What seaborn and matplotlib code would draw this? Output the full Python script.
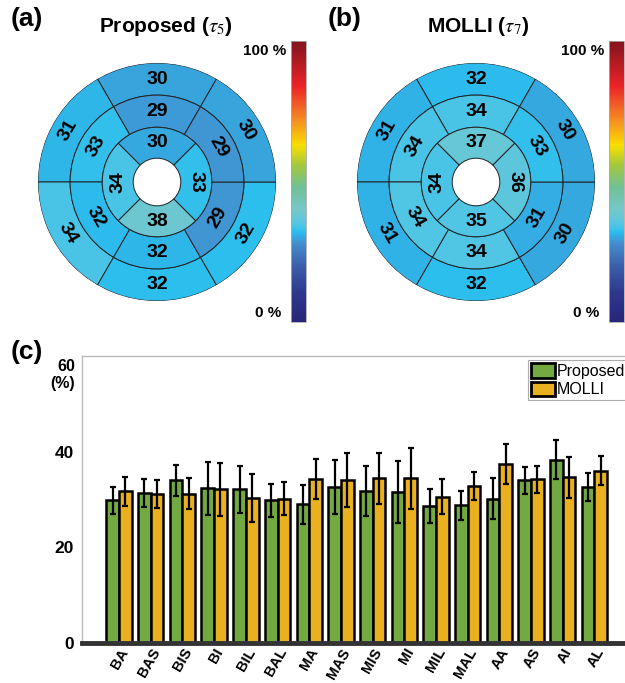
import numpy as np
import pandas as pd
import matplotlib
matplotlib.use("Agg")
import matplotlib.pyplot as plt
from matplotlib.colors import LinearSegmentedColormap, Normalize
from matplotlib.cm import ScalarMappable
import seaborn as sns

# ---------------------------
# Data
# ---------------------------
segments = ["BA", "BAS", "BIS", "BI", "BIL", "BAL",
            "MA", "MAS", "MIS", "MI", "MIL", "MAL",
            "AA", "AS", "AI", "AL"]
proposed_mean = [29.8, 31.4, 34.0, 32.3, 32.1, 29.8,
                 29.0, 32.6, 31.7, 31.6, 28.6, 28.8,
                 30.2, 34.0, 38.3, 32.6]
proposed_sd = [2.9, 2.9, 3.3, 5.6, 5.0, 3.4,
               4.1, 5.7, 5.2, 6.5, 3.6, 3.0,
               4.3, 2.8, 4.1, 3.0]
molli_mean = [31.7, 31.2, 31.2, 32.1, 30.3, 30.2,
              34.3, 34.1, 34.4, 34.4, 30.6, 32.8,
              37.4, 34.2, 34.6, 36.0]
molli_sd = [3.0, 2.9, 3.2, 5.5, 5.1, 3.4,
            4.1, 5.7, 5.3, 6.4, 3.6, 3.0,
            4.2, 2.9, 4.2, 3.0]
methods = ["Proposed", "MOLLI"]
bar_colors = ["#72A941", "#E9B020"]

# muted jet-like colormap as printed in the figure
cmap_stops = [
    (0.00, (40, 38, 120)), (0.10, (45, 55, 140)), (0.20, (60, 95, 170)),
    (0.28, (68, 142, 206)), (0.32, (42, 190, 238)), (0.35, (88, 198, 226)),
    (0.40, (118, 200, 200)), (0.48, (112, 192, 150)), (0.56, (165, 200, 60)),
    (0.63, (250, 222, 0)), (0.72, (245, 140, 35)), (0.84, (235, 35, 40)),
    (1.00, (130, 20, 30)),
]
cmap = LinearSegmentedColormap.from_list(
    "mutedjet", [(p, tuple(c / 255 for c in rgb)) for p, rgb in cmap_stops])
norm = Normalize(0, 100)

sns.set_style("white")
plt.rcParams["font.family"] = ["Liberation Sans", "DejaVu Sans"]
plt.rcParams["mathtext.fontset"] = "stix"
plt.rcParams["text.color"] = "black"
plt.rcParams["xtick.color"] = "black"
plt.rcParams["ytick.color"] = "black"

W, H = 625, 683
fig = plt.figure(figsize=(W / 100, H / 100), dpi=100)


def px_axes(x0, y0, w, h, **kw):
    # pixel box (top-left origin) -> figure axes
    return fig.add_axes([x0 / W, 1 - (y0 + h) / H, w / W, h / H], **kw)


# ---------------------------
# Bullseye helper
# ---------------------------
radii = [0.2, 0.46, 0.73, 1.0]


def text_rot(a):
    return a - 90 if a <= 180 else a - 270


def bullseye(ax, values):
    ax.set_ylim(0, 1)
    ax.set_axis_off()
    rings = [(values[0:6], 6, 2), (values[6:12], 6, 1), (values[12:16], 4, 0)]
    for vals, n, ri in rings:
        step = 360 / n
        for k, v in enumerate(vals):
            a = (90 + k * step) % 360
            ax.bar(np.deg2rad(a), radii[ri + 1] - radii[ri], width=np.deg2rad(step),
                   bottom=radii[ri], color=cmap(norm(v)), edgecolor="#222222",
                   linewidth=0.7)
            rmid = (radii[ri] + radii[ri + 1]) / 2
            ax.text(np.deg2rad(a), rmid, f"{int(round(v))}", ha="center",
                    va="center", rotation=text_rot(a), rotation_mode="anchor",
                    fontsize=14, fontweight="bold", color="black")


def colorbar(x0):
    cax = px_axes(x0, 41, 15, 281)
    cb = fig.colorbar(ScalarMappable(norm=norm, cmap=cmap), cax=cax)
    cb.set_ticks([])
    cb.outline.set_edgecolor("#aaaaaa")
    cb.outline.set_linewidth(0.6)
    fig.text((x0 - 5) / W, 1 - 51 / H, "100 %", ha="right", va="center",
             fontsize=11, fontweight="bold")
    fig.text((x0 - 10) / W, 1 - 313 / H, "0 %", ha="right", va="center",
             fontsize=11, fontweight="bold")


ax_a = px_axes(38, 63, 238, 238, projection="polar")
bullseye(ax_a, proposed_mean)
colorbar(291)
ax_b = px_axes(357, 63, 238, 238, projection="polar")
bullseye(ax_b, molli_mean)
colorbar(609)

fig.text(11 / W, 1 - 19 / H, "(a)", fontsize=19, fontweight="bold", va="center")
fig.text(166 / W, 1 - 27 / H, r"Proposed ($\tau_5$)", fontsize=15,
         fontweight="bold", ha="center", va="center")
fig.text(328 / W, 1 - 19 / H, "(b)", fontsize=19, fontweight="bold", va="center")
fig.text(478 / W, 1 - 27 / H, r"MOLLI ($\tau_7$)", fontsize=15,
         fontweight="bold", ha="center", va="center")

# ---------------------------
# Bar chart
# ---------------------------
df = pd.DataFrame({
    "segment": segments * 2,
    "method": [methods[0]] * len(segments) + [methods[1]] * len(segments),
    "value": proposed_mean + molli_mean,
})

ax = px_axes(82, 356, 560, 287)
sns.barplot(data=df, x="segment", y="value", hue="method", order=segments,
            hue_order=methods, palette=bar_colors, edgecolor="black",
            linewidth=1.8, errorbar=None, width=0.8, gap=0, saturation=1, ax=ax)

for cont, sd in zip(ax.containers, [proposed_sd, molli_sd]):
    xs = [b.get_x() + b.get_width() / 2 for b in cont]
    ys = [b.get_height() for b in cont]
    ax.errorbar(xs, ys, yerr=sd, fmt="none", ecolor="black", elinewidth=1.6,
                capsize=2.2, capthick=1.6, zorder=5)

ax.set_xlim(-1.17, 16.5)
ax.set_ylim(0, 60)
ax.set_yticks([0, 20, 40])
ax.set_yticklabels(["0", "20", "40"], fontweight="bold", fontsize=12.5)
ax.tick_params(axis="y", direction="in", length=4, color="#bbbbbb", pad=6)
ax.tick_params(axis="x", length=0, pad=2)
ax.set_xticks(range(len(segments)))
ax.set_xticklabels(segments, rotation=60, ha="right", rotation_mode="anchor",
                   fontweight="bold", fontsize=10.5)
ax.set_xlabel("")
ax.set_ylabel("")
for s in ["left", "top"]:
    ax.spines[s].set_color("#bbbbbb")
    ax.spines[s].set_linewidth(1.0)
ax.spines["right"].set_visible(False)
ax.spines["bottom"].set_color("#333333")
ax.spines["bottom"].set_linewidth(3.5)

ax.text(-0.012, 0.965, "60", transform=ax.transAxes, ha="right", va="center",
        fontsize=11.5, fontweight="bold")
ax.text(-0.012, 0.905, "(%)", transform=ax.transAxes, ha="right", va="center",
        fontsize=11.5, fontweight="bold")
fig.text(11 / W, 1 - 352 / H, "(c)", fontsize=19, fontweight="bold", va="center")

leg = ax.legend(loc="upper left", bbox_to_anchor=(446 / 560, 0.985),
                frameon=True, fancybox=False, fontsize=11.5, handlelength=1.5,
                handleheight=1.0, handletextpad=0.1, borderpad=0.2,
                labelspacing=0.15, borderaxespad=0)
leg.get_frame().set_edgecolor("#999999")
leg.get_frame().set_linewidth(0.8)
for p in leg.get_patches():
    p.set_linewidth(2.0)
    p.set_edgecolor("black")

fig.savefig("out.png", dpi=100)
